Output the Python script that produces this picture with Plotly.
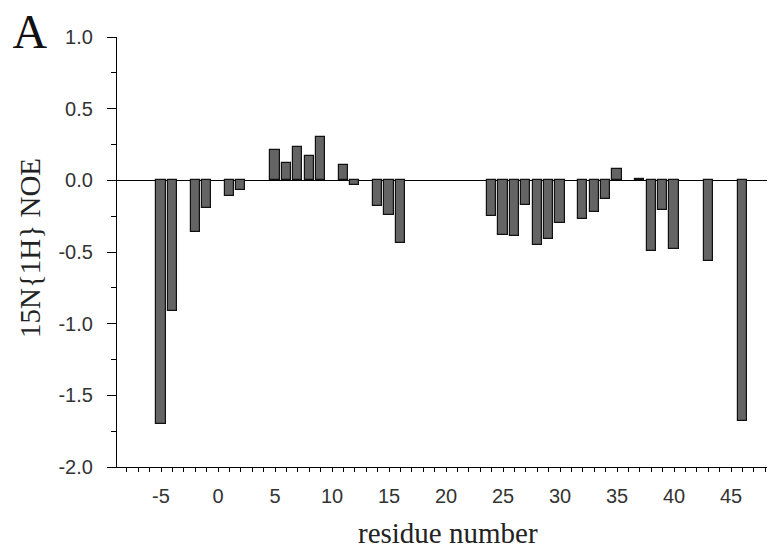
import plotly.graph_objects as go

residues = [-5, -4, -2, -1, 1, 2, 5, 6, 7, 8, 9, 11, 12, 14, 15, 16,
            24, 25, 26, 27, 28, 29, 30, 32, 33, 34, 35, 37, 38, 39, 40, 43, 46]
noe = [-1.70, -0.91, -0.36, -0.19, -0.11, -0.07, 0.21, 0.12, 0.23, 0.17, 0.30,
       0.11, -0.03, -0.18, -0.24, -0.44, -0.25, -0.38, -0.39, -0.17, -0.45,
       -0.41, -0.30, -0.27, -0.22, -0.13, 0.08, 0.01, -0.49, -0.21, -0.48,
       -0.56, -1.68]

x_tickvals = [-5, 0, 5, 10, 15, 20, 25, 30, 35, 40, 45]
x_ticktext = ["-5", "0", "5", "10", "15", "20", "25", "30", "35", "40", "45"]
y_tickvals = [-2.0, -1.5, -1.0, -0.5, 0.0, 0.5, 1.0]
y_ticktext = ["-2.0", "-1.5", "-1.0", "-0.5", "0.0", "0.5", "1.0"]

fig = go.Figure()
fig.add_trace(go.Bar(
    x=residues, y=noe, width=0.8,
    marker=dict(color="#646464", line=dict(color="#111111", width=1.2)),
))

tickfont = dict(family="Liberation Sans, Arial, sans-serif", size=20, color="#333333")
serif = "Liberation Serif, Times New Roman, serif"
titlefont = dict(family=serif, size=29, color="#222222")

# page has an 8px body margin; figure coordinates are page pixels minus 8
OFF = 8
FW, FH = 775 - OFF, 550 - OFF
L, T, W, H = 117 - OFF, 37 - OFF, 775 - 117, 430


def px(x):
    return (x - OFF - L) / W


def py(y):
    return (T + H - (y - OFF)) / H


fig.update_layout(
    width=FW, height=FH,
    margin=dict(l=L, r=FW - L - W, t=T, b=FH - T - H, autoexpand=False),
    paper_bgcolor="white", plot_bgcolor="white",
    showlegend=False, bargap=0,
    xaxis=dict(
        range=[-8.86, 48.86], automargin=False,
        tickmode="array", tickvals=x_tickvals, ticktext=x_ticktext,
        ticks="outside", ticklen=4, tickwidth=1, tickcolor="black",
        minor=dict(tickmode="linear", tick0=0, dtick=1, ticks="outside",
                   ticklen=4, tickwidth=1, tickcolor="black"),
        showline=True, linecolor="black", linewidth=1.2,
        showgrid=False, zeroline=False,
        tickfont=tickfont, ticklabelstandoff=7,
    ),
    yaxis=dict(
        range=[-2.0, 1.0], automargin=False,
        tickmode="array", tickvals=y_tickvals, ticktext=y_ticktext,
        ticks="outside", ticklen=9, tickwidth=1, tickcolor="black",
        minor=dict(tickmode="linear", tick0=0, dtick=0.25, ticks="outside",
                   ticklen=5, tickwidth=1, tickcolor="black"),
        showline=True, linecolor="black", linewidth=1.2,
        showgrid=False,
        zeroline=True, zerolinecolor="black", zerolinewidth=1.2,
        tickfont=tickfont, ticklabelstandoff=10,
    ),
    annotations=[
        dict(text="A", xref="paper", yref="paper",
             x=px(30), y=py(31), xanchor="center", yanchor="middle",
             height=40, width=40, valign="middle", borderpad=0,
             showarrow=False,
             font=dict(family=serif, size=48, color="#111111")),
        dict(text="residue number", xref="paper", yref="paper",
             x=px(448), y=py(533), xanchor="center", yanchor="middle",
             showarrow=False, font=titlefont),
        dict(text="15N{1H} NOE", xref="paper", yref="paper",
             x=px(30), y=py(248), xanchor="center", yanchor="middle",
             textangle=-90, showarrow=False, font=titlefont),
    ],
)

fig.write_html("out.html")
